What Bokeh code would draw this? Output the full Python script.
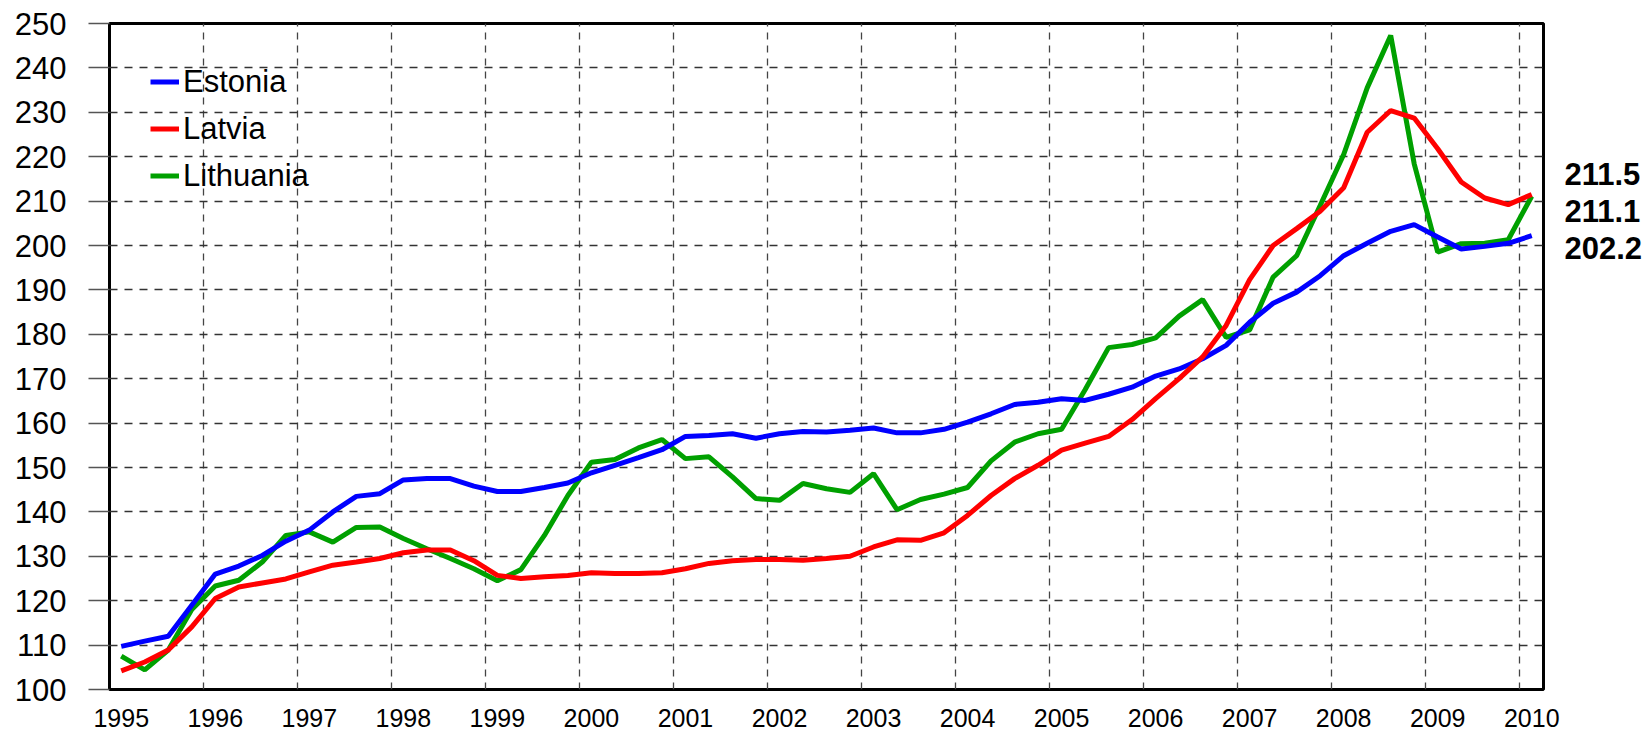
from bokeh.plotting import figure
from bokeh.models import (FixedTicker, Legend, LegendItem, LinearAxis)
from bokeh.embed import file_html
from bokeh.resources import INLINE

# ---- data (quarterly, 1995 Q1 .. 2010 Q1) ----
year_labels = ["1995", "1996", "1997", "1998", "1999", "2000", "2001", "2002",
               "2003", "2004", "2005", "2006", "2007", "2008", "2009", "2010"]

estonia = [109.7, 110.9, 112.0, 119.0, 126.0, 127.8, 130.2, 133.4,
           135.9, 140.0, 143.5, 144.1, 147.2, 147.5, 147.5, 145.8,
           144.6, 144.6, 145.5, 146.5, 148.8, 150.5, 152.2, 154.0,
           157.0, 157.2, 157.6, 156.6, 157.6, 158.1, 158.0, 158.4,
           158.9, 157.8, 157.8, 158.6, 160.2, 162.1, 164.2, 164.7,
           165.5, 165.1, 166.5, 168.1, 170.6, 172.2, 174.5, 177.5,
           182.7, 187.0, 189.5, 193.2, 197.7, 200.5, 203.2, 204.7,
           201.9, 199.2, 199.8, 200.5, 202.2]

latvia = [104.2, 106.2, 108.9, 114.1, 120.5, 123.1, 124.0, 124.9,
          126.5, 128.0, 128.7, 129.5, 130.8, 131.4, 131.4, 129.0,
          125.7, 125.0, 125.4, 125.7, 126.3, 126.1, 126.1, 126.3,
          127.2, 128.4, 129.0, 129.3, 129.3, 129.1, 129.5, 130.0,
          132.1, 133.7, 133.6, 135.3, 139.2, 143.7, 147.5, 150.5,
          153.9, 155.5, 157.0, 160.8, 165.5, 170.0, 174.9, 182.0,
          192.3, 200.0, 203.8, 207.7, 213.0, 225.5, 230.4, 228.7,
          221.8, 214.3, 210.7, 209.2, 211.5]

lithuania = [107.5, 104.4, 108.9, 118.0, 123.3, 124.6, 128.7, 134.7,
             135.5, 133.2, 136.5, 136.6, 134.0, 131.7, 129.5, 127.2,
             124.5, 127.0, 134.7, 143.7, 151.2, 151.8, 154.4, 156.3,
             152.0, 152.4, 147.9, 143.0, 142.6, 146.4, 145.2, 144.4,
             148.6, 140.5, 142.8, 144.0, 145.5, 151.5, 155.7, 157.6,
             158.6, 167.5, 177.0, 177.7, 179.2, 184.1, 187.8, 179.3,
             181.0, 192.9, 197.7, 209.0, 220.5, 235.5, 247.3, 218.4,
             198.5, 200.4, 200.5, 201.3, 211.1]

series_names = ["Estonia", "Latvia", "Lithuania"]
series_colors = ["#0000ff", "#ff0000", "#00a000"]

FONT = "Liberation Sans"
n = len(estonia)
qx = list(range(n))
y_ticks = list(range(100, 251, 10))
year_pos = [4 * k for k in range(len(year_labels))]

p = figure(width=1648, height=737, x_range=(-0.5, n - 0.5), y_range=(100, 250),
           title=None, output_backend="svg", toolbar_location=None,
           min_border_left=109, min_border_right=105,
           min_border_top=23, min_border_bottom=48)

p.outline_line_color = "black"
p.outline_line_width = 3
p.background_fill_color = "white"

# y axis
yax = p.yaxis[0]
yax.ticker = FixedTicker(ticks=y_ticks)
yax.axis_line_color = None
yax.major_tick_out = 21
yax.major_tick_in = 0
yax.minor_tick_line_color = None
yax.major_tick_line_color = "#555555"
yax.major_tick_line_width = 1.5
yax.major_label_text_font = FONT
yax.major_label_text_font_size = "31px"
yax.major_label_text_color = "black"
yax.major_label_standoff = 22

# x axis: year label under each Q1
xax = p.xaxis[0]
xax.ticker = FixedTicker(ticks=year_pos)
xax.major_label_overrides = {pos: lab for pos, lab in zip(year_pos, year_labels)}
xax.axis_line_color = None
xax.major_tick_line_color = None
xax.minor_tick_line_color = None
xax.major_tick_out = 0
xax.major_tick_in = 0
xax.major_label_text_font = FONT
xax.major_label_text_font_size = "25px"
xax.major_label_text_color = "black"
xax.major_label_standoff = 19

# grids
p.ygrid.ticker = FixedTicker(ticks=y_ticks)
p.ygrid.grid_line_color = "#333333"
p.ygrid.grid_line_dash = "8 7"
p.ygrid.grid_line_width = 1.3
p.xgrid.ticker = FixedTicker(ticks=[xp - 0.5 for xp in year_pos[1:]])
p.xgrid.grid_line_color = "#444444"
p.xgrid.grid_line_dash = "7 6"
p.xgrid.grid_line_width = 1.3

# lines
r_lit = p.line(qx, lithuania, line_width=5, line_color=series_colors[2])
r_est = p.line(qx, estonia, line_width=5, line_color=series_colors[0])
r_lat = p.line(qx, latvia, line_width=5, line_color=series_colors[1])

legend = Legend(items=[LegendItem(label=series_names[0], renderers=[r_est]),
                       LegendItem(label=series_names[1], renderers=[r_lat]),
                       LegendItem(label=series_names[2], renderers=[r_lit])],
                location=(41, 490), orientation="vertical",
                label_text_font=FONT, label_text_font_size="31px",
                label_text_color="black",
                glyph_width=29, glyph_height=47, label_height=47,
                label_standoff=4, spacing=0, padding=0, margin=0,
                border_line_color=None, background_fill_alpha=0)
p.add_layout(legend)

# end-value labels on the right, as a right-hand axis
last_vals = [estonia[-1], latvia[-1], lithuania[-1]]
order = sorted(range(3), key=lambda k: -last_vals[k])
end_pos = [round(216.0 - rank * 8.3, 1) for rank in range(3)]
overrides = {end_pos[rank]: "%.1f" % last_vals[k] for rank, k in enumerate(order)}
rax = LinearAxis(ticker=FixedTicker(ticks=end_pos), major_label_overrides=overrides)
rax.axis_line_color = None
rax.major_tick_line_color = None
rax.minor_tick_line_color = None
rax.major_tick_out = 0
rax.major_tick_in = 0
rax.major_label_text_font = FONT
rax.major_label_text_font_size = "31px"
rax.major_label_text_font_style = "bold"
rax.major_label_text_color = "black"
rax.major_label_standoff = 21
p.add_layout(rax, "right")

open("out.html", "w").write(file_html(p, INLINE))
